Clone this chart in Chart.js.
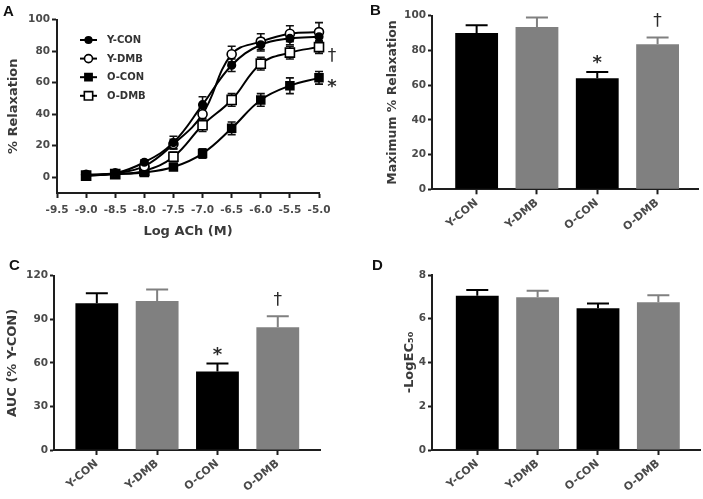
<!DOCTYPE html>
<html>
<head>
<meta charset="utf-8">
<script src="https://cdn.jsdelivr.net/npm/chart.js@4.4.0/dist/chart.umd.min.js"></script>
<style>
  body { margin: 0; background: #fff; }
  #wrap { position: relative; width: 703px; height: 499px; overflow: hidden; }
  canvas { position: absolute; }
  .tag { position: absolute; font: bold 15px "Liberation Sans", Arial, sans-serif; color: #111; }
</style>
</head>
<body>
<div id="wrap">
  <canvas id="chartA" width="350" height="240" style="left:0;top:0"></canvas>
  <canvas id="chartB" width="353" height="240" style="left:350px;top:0"></canvas>
  <canvas id="chartC" width="350" height="259" style="left:0;top:240px"></canvas>
  <canvas id="chartD" width="353" height="259" style="left:350px;top:240px"></canvas>
  <div class="tag" style="left:3px;top:2px">A</div>
  <div class="tag" style="left:370px;top:1px">B</div>
  <div class="tag" style="left:9px;top:256px">C</div>
  <div class="tag" style="left:372px;top:256px">D</div>
</div>
<script>
// dados do painel A (curva concentração-resposta)
const logDoses = [-9.0, -8.5, -8.0, -7.5, -7.0, -6.5, -6.0, -5.5, -5.0];
const seriesNames = ["Y-CON", "Y-DMB", "O-CON", "O-DMB"];
const yCon = [1.5, 2.5, 9.5, 22, 46, 71, 84, 88, 89];
const yConErr = [1, 1, 1.5, 4, 5, 4, 4, 4, 3];
const yDmb = [1.5, 2.5, 7, 21, 40, 78, 86, 91, 92];
const yDmbErr = [1, 1, 1.5, 3, 4, 5, 5, 5, 6];
const oCon = [1, 2, 3, 6.5, 15, 31, 49, 58, 63];
const oConErr = [1, 1, 1, 1.5, 3, 4, 4, 5, 4];
const oDmb = [1, 2, 4, 13, 33, 49, 72, 79, 82.5];
const oDmbErr = [1, 1, 1, 3, 4, 4, 4, 4, 4];
const curveSigns = ["", "", "*", "†"];

// dados dos painéis de barras
const groups = ["Y-CON", "Y-DMB", "O-CON", "O-DMB"];
const maxRelax = [90, 93.5, 64, 83.5];
const maxRelaxErr = [4.5, 5.5, 3.5, 4];
const auc = [101, 102.5, 54, 84.5];
const aucErr = [7, 8, 5.5, 7.5];
const logEc50 = [7.05, 6.98, 6.48, 6.75];
const logEc50Err = [0.27, 0.3, 0.22, 0.33];
const barSigns = ["", "", "*", "†"];
const noSigns = ["", "", "", ""];

const FONT = "DejaVu Sans";
const TICK_COLOR = "#4a4a4a";
const TITLE_COLOR = "#3a3a3a";
const AXIS_COLOR = "#1e1e1e";
const barColors = ["#000000", "#808080", "#000000", "#808080"];

const signStyle = {
  "*": { font: "bold 18px " + FONT, lift: 10 },
  "†": { font: "17px " + FONT, lift: 5 }
};

function drawSign(ctx, text, x, cy) {
  const st = signStyle[text];
  ctx.save();
  ctx.font = st.font;
  ctx.fillStyle = "#2a2a2a";
  ctx.textAlign = "center";
  ctx.textBaseline = "alphabetic";
  ctx.fillText(text, x, cy + st.lift);
  ctx.restore();
}

// barras de erro (both = para cima e para baixo, up = só para cima)
function drawErrors(chart, opts) {
  const ctx = chart.ctx;
  chart.data.datasets.forEach((ds, d) => {
    const meta = chart.getDatasetMeta(d);
    const yScale = chart.scales[meta.yAxisID];
    const errs = opts.errors[d];
    meta.data.forEach((el, i) => {
      const v = ds.data[i].y;
      const top = yScale.getPixelForValue(v + errs[i]);
      const bottom = opts.mode === "both" ? yScale.getPixelForValue(v - errs[i]) : el.y;
      const c = opts.cap / 2;
      ctx.save();
      ctx.strokeStyle = opts.colors ? opts.colors[i] : "#111";
      ctx.lineWidth = opts.width;
      ctx.beginPath();
      ctx.moveTo(el.x, top); ctx.lineTo(el.x, bottom);
      ctx.moveTo(el.x - c, top); ctx.lineTo(el.x + c, top);
      if (opts.mode === "both") { ctx.moveTo(el.x - c, bottom); ctx.lineTo(el.x + c, bottom); }
      ctx.stroke();
      ctx.restore();
    });
  });
}

const errorBars = {
  id: "errorBars",
  beforeDatasetsDraw(chart, args, opts) { if (opts.mode === "both") drawErrors(chart, opts); },
  afterDatasetsDraw(chart, args, opts) {
    if (opts.mode === "up") drawErrors(chart, opts);
    // sinais de significância
    if (opts.signs) {
      const meta = chart.getDatasetMeta(0);
      const yScale = chart.scales[meta.yAxisID];
      opts.signs.forEach((s, i) => {
        if (!s) return;
        const v = chart.data.datasets[0].data[i].y;
        const top = yScale.getPixelForValue(v + opts.errors[0][i]);
        drawSign(chart.ctx, s, meta.data[i].x, top - (s === "*" ? 14 : 16));
      });
    }
  }
};

function drawMarker(ctx, style, x, y) {
  ctx.save();
  ctx.lineWidth = 1.6;
  ctx.strokeStyle = "#000";
  ctx.fillStyle = style.fill;
  ctx.beginPath();
  if (style.shape === "circle") ctx.arc(x, y, style.r, 0, Math.PI * 2);
  else { const s = style.r * Math.SQRT1_2; ctx.rect(x - s, y - s, 2 * s, 2 * s); }
  ctx.fill(); ctx.stroke();
  ctx.restore();
}

// legenda dentro da área do gráfico A
const insideLegend = {
  id: "insideLegend",
  afterDraw(chart, args, opts) {
    if (!opts.show) return;
    const ctx = chart.ctx;
    chart.data.datasets.forEach((ds, d) => {
      const y = 40 + d * 18.6;
      ctx.save();
      ctx.strokeStyle = "#000";
      ctx.lineWidth = 2;
      ctx.beginPath(); ctx.moveTo(80, y); ctx.lineTo(97, y); ctx.stroke();
      ctx.restore();
      drawMarker(ctx, { shape: ds.pointStyle === "rect" ? "rect" : "circle", r: ds.pointRadius - 0.5, fill: ds.pointBackgroundColor }, 88.5, y);
      ctx.save();
      ctx.font = "bold 10px " + FONT;
      ctx.fillStyle = "#333";
      ctx.textBaseline = "middle";
      ctx.fillText(ds.label, 107, y + 0.5);
      ctx.restore();
    });
    // sinais no final das curvas
    chart.data.datasets.forEach((ds, d) => {
      const s = opts.signs[d];
      if (!s) return;
      const meta = chart.getDatasetMeta(d);
      const el = meta.data[meta.data.length - 1];
      drawSign(ctx, s, el.x + 13, el.y + (s === "*" ? 4 : 9));
    });
  }
};

Chart.register(errorBars, insideLegend);

function fixWidth(w) { return scale => { scale.width = w; }; }
function fixHeight(h) { return scale => { scale.height = h; }; }

const tickFont = { family: FONT, size: 10.5, weight: "bold" };

// ---------- Painel A ----------
const curveData = [yCon, yDmb, oCon, oDmb];
const curveErrs = [yConErr, yDmbErr, oConErr, oDmbErr];
const markerStyles = [
  { pointStyle: "circle", pointRadius: 3.8, fill: "#000" },
  { pointStyle: "circle", pointRadius: 4.5, fill: "#fff" },
  { pointStyle: "rect", pointRadius: 5.6, fill: "#000" },
  { pointStyle: "rect", pointRadius: 6.4, fill: "#fff" }
];

new Chart(document.getElementById("chartA").getContext("2d"), {
  type: "line",
  data: {
    datasets: curveData.map((vals, d) => ({
      label: seriesNames[d],
      data: vals.map((v, i) => ({ x: logDoses[i], y: v })),
      borderColor: "#000",
      borderWidth: 2,
      tension: 0.4,
      pointStyle: markerStyles[d].pointStyle,
      pointRadius: markerStyles[d].pointRadius,
      pointBackgroundColor: markerStyles[d].fill,
      pointBorderColor: "#000",
      pointBorderWidth: 1.6,
      clip: false
    }))
  },
  options: {
    responsive: false,
    animation: false,
    layout: { padding: { left: 0, top: 19.5, right: 31, bottom: 0 } },
    plugins: {
      legend: { display: false },
      tooltip: { enabled: false },
      errorBars: { mode: "both", errors: curveErrs, cap: 8, width: 1.6 },
      insideLegend: { show: true, signs: curveSigns }
    },
    scales: {
      x: {
        type: "linear", min: -9.5, max: -5.0,
        afterFit: fixHeight(47),
        ticks: { stepSize: 0.5, color: TICK_COLOR, font: tickFont, padding: 6, maxRotation: 0,
          callback: v => Number(v).toFixed(1) },
        grid: { drawOnChartArea: false, tickLength: 5, tickColor: AXIS_COLOR, tickWidth: 2 },
        border: { color: AXIS_COLOR, width: 2 },
        title: { display: true, text: "Log ACh (M)", color: TITLE_COLOR,
          font: { family: FONT, size: 13, weight: "bold" }, padding: { top: 0, bottom: 1 } }
      },
      y: {
        min: -10, max: 100,
        afterFit: fixWidth(57),
        afterBuildTicks: scale => { scale.ticks = scale.ticks.filter(t => t.value >= 0); },
        ticks: { stepSize: 20, color: TICK_COLOR, font: tickFont, padding: 2 },
        grid: { drawOnChartArea: false, tickLength: 5, tickColor: AXIS_COLOR, tickWidth: 2 },
        border: { color: AXIS_COLOR, width: 2 },
        title: { display: true, text: "% Relaxation", color: TITLE_COLOR,
          font: { family: FONT, size: 13, weight: "bold" }, padding: { top: 6, bottom: 0 } }
      }
    }
  }
});

// ---------- Painéis de barras ----------
function barChart(id, cfg) {
  return new Chart(document.getElementById(id).getContext("2d"), {
    type: "bar",
    data: {
      datasets: [{
        data: cfg.values.map((v, i) => ({ x: i, y: v })),
        backgroundColor: barColors,
        borderWidth: 0,
        categoryPercentage: 1,
        barPercentage: 0.71
      }]
    },
    options: {
      responsive: false,
      animation: false,
      layout: { padding: cfg.padding },
      plugins: {
        legend: { display: false },
        tooltip: { enabled: false },
        errorBars: { mode: "up", errors: [cfg.errors], colors: barColors, cap: 22, width: 2, signs: cfg.signs }
      },
      scales: {
        x: {
          type: "linear", min: cfg.xMin, max: cfg.xMax, offset: false,
          afterFit: fixHeight(cfg.xHeight),
          afterBuildTicks: scale => { scale.ticks = groups.map((g, i) => ({ value: i })); },
          ticks: { color: TICK_COLOR, font: { family: FONT, size: 11, weight: "bold" }, padding: 2,
            autoSkip: false, minRotation: 40, maxRotation: 40, callback: v => groups[v] },
          grid: { offset: false, drawOnChartArea: false, tickLength: 5, tickColor: AXIS_COLOR, tickWidth: 2 },
          border: { color: AXIS_COLOR, width: 2 }
        },
        y: {
          min: 0, max: cfg.yMax,
          afterFit: fixWidth(cfg.yWidth),
          ticks: { stepSize: cfg.yStep, color: TICK_COLOR, font: tickFont, padding: 2 },
          grid: { drawOnChartArea: false, tickLength: 4, tickColor: AXIS_COLOR, tickWidth: 2 },
          border: { color: AXIS_COLOR, width: 2 },
          title: { display: true, text: cfg.title, color: TITLE_COLOR,
            font: { family: FONT, size: cfg.titleSize, weight: "bold" }, padding: { top: cfg.titlePad, bottom: 0 } }
        }
      }
    }
  });
}

barChart("chartB", {
  values: maxRelax, errors: maxRelaxErr, signs: barSigns,
  title: "Maximum % Relaxation", titleSize: 12.5, titlePad: 35,
  yMax: 100, yStep: 20, yWidth: 82, xHeight: 50.7,
  xMin: -0.74, xMax: 3.67,
  padding: { left: 0, top: 15.7, right: 5, bottom: 0 }
});

barChart("chartC", {
  values: auc, errors: aucErr, signs: barSigns,
  title: "AUC (% Y-CON)", titleSize: 13, titlePad: 5,
  yMax: 120, yStep: 30, yWidth: 54, xHeight: 49,
  xMin: -0.71, xMax: 3.7,
  padding: { left: 0, top: 35.7, right: 30, bottom: 0 }
});

barChart("chartD", {
  values: logEc50, errors: logEc50Err, signs: noSigns,
  title: "-LogEC₅₀", titleSize: 13, titlePad: 52,
  yMax: 8, yStep: 2, yWidth: 82, xHeight: 49,
  xMin: -0.75, xMax: 3.69,
  padding: { left: 0, top: 35, right: 3, bottom: 0 }
});
</script>
</body>
</html>
